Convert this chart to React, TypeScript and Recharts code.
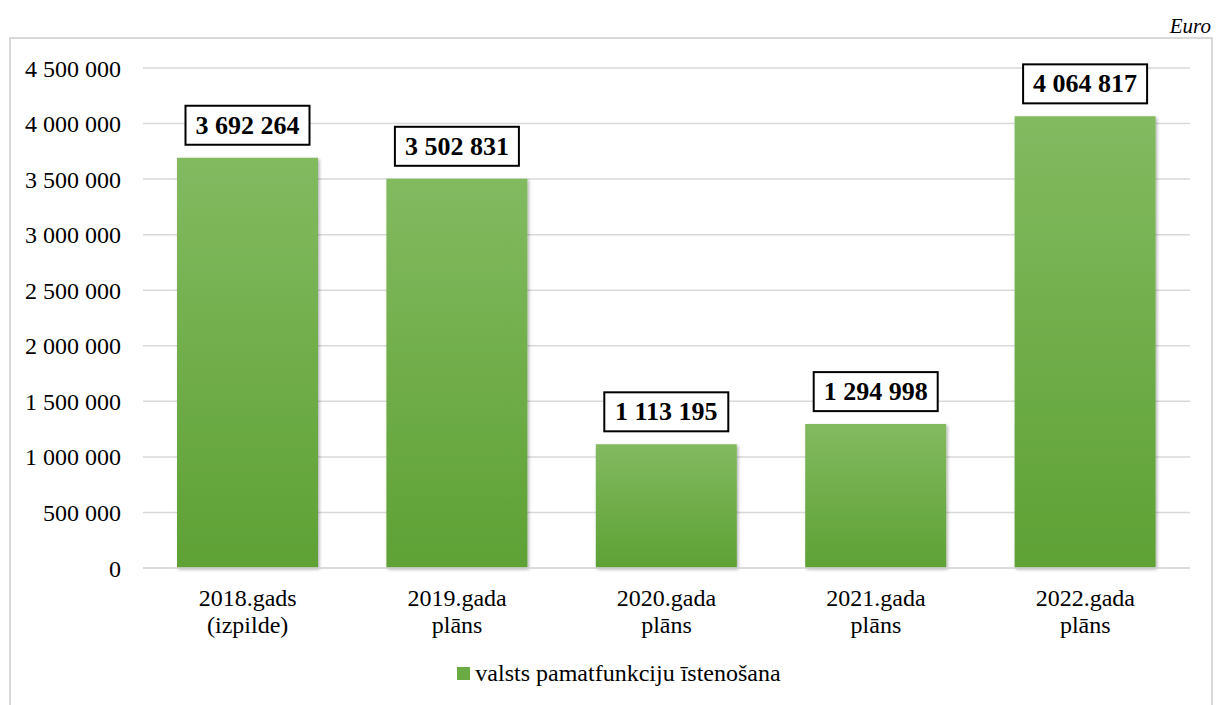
import React from "react"
import { BarChart, Bar, XAxis, YAxis, CartesianGrid, LabelList } from "recharts"

const categories = [
  "2018.gads|(izpilde)",
  "2019.gada|plāns",
  "2020.gada|plāns",
  "2021.gada|plāns",
  "2022.gada|plāns",
]
const values = [3692264, 3502831, 1113195, 1294998, 4064817]
const yTicks = [0, 500000, 1000000, 1500000, 2000000, 2500000, 3000000, 3500000, 4000000, 4500000]
const seriesName = "valsts pamatfunkciju īstenošana"
const unitLabel = "Euro"

const data = categories.map((c, i) => ({ name: c, value: values[i] }))

const FONT = '"Liberation Serif", "DejaVu Serif", "Noto Serif", Tinos, "Times New Roman", Times, serif'

const fmt = (v: number) => v.toString().replace(/\B(?=(\d{3})+(?!\d))/g, " ")

const XTick = (props: any) => {
  const { x, y, payload } = props
  const [a, b] = String(payload.value).split("|")
  return (
    <text x={x} y={y} textAnchor="middle" style={{ fontFamily: FONT }} fontSize={24} fill="#000">
      <tspan x={x} dy={38}>{a}</tspan>
      <tspan x={x} dy={27}>{b}</tspan>
    </text>
  )
}

const ValueLabel = (props: any) => {
  const { x, y, width, value } = props
  const cx = x + width / 2
  const w = 124
  const h = 39
  const top = y - 13 - h
  return (
    <g>
      <rect x={cx - w / 2} y={top} width={w} height={h} fill="#fff" stroke="#000" strokeWidth={2} />
      <text x={cx} y={top + 28} textAnchor="middle" style={{ fontFamily: FONT }} fontSize={26} fontWeight="bold" fill="#000">
        {fmt(value)}
      </text>
    </g>
  )
}

export default function App() {
  return (
    <div style={{ position: "absolute", left: 0, top: 0, width: 1222, height: 705, overflow: "hidden", background: "#fff", fontFamily: FONT }}>
      <div
        style={{
          position: "absolute",
          left: 9,
          top: 37,
          width: 1200,
          height: 700,
          border: "2px solid #d9d9d9",
        }}
      />
      <div
        style={{
          position: "absolute",
          right: 11,
          top: 14,
          fontStyle: "italic",
          fontSize: 21,
          color: "#000",
        }}
      >
        {unitLabel}
      </div>
      <div style={{ position: "absolute", left: 0, top: 0 }}>
        <BarChart width={1222} height={705} data={data} margin={{ top: 68, right: 32, bottom: 107, left: 43 }}>
          <defs>
            <linearGradient id="barGrad" x1="0" y1="0" x2="0" y2="1">
              <stop offset="0%" stopColor="#82ba60" />
              <stop offset="100%" stopColor="#5ea134" />
            </linearGradient>
            <filter id="barShadow" x="-10%" y="-10%" width="120%" height="120%">
              <feDropShadow dx="1.5" dy="1.5" stdDeviation="1.5" floodColor="#000" floodOpacity="0.3" />
            </filter>
          </defs>
          <CartesianGrid vertical={false} stroke="#d9d9d9" strokeWidth={1.5} />
          <XAxis
            dataKey="name"
            height={30}
            tick={<XTick />}
            tickLine={false}
            tickSize={0}
            tickMargin={0}
            axisLine={{ stroke: "#d9d9d9", strokeWidth: 1.5 }}
            interval={0}
          />
          <YAxis
            width={100}
            domain={[0, 4500000]}
            ticks={yTicks}
            tickFormatter={fmt}
            axisLine={false}
            tickLine={false}
            tickSize={6}
            tickMargin={16}
            tick={{ style: { fontFamily: FONT }, fontSize: 24, fill: "#000" }}
          />
          <Bar dataKey="value" name={seriesName} barSize={141} fill="url(#barGrad)" filter="url(#barShadow)" isAnimationActive={false}>
            <LabelList dataKey="value" content={<ValueLabel />} />
          </Bar>
        </BarChart>
      </div>
      <div
        style={{
          position: "absolute",
          left: 8,
          top: 660,
          width: 1222,
          display: "flex",
          justifyContent: "center",
          alignItems: "center",
          fontSize: 24,
          color: "#000",
        }}
      >
        <span style={{ display: "inline-block", width: 13, height: 13, background: "#6aab44", marginRight: 5 }} />
        <span>{seriesName}</span>
      </div>
    </div>
  )
}
